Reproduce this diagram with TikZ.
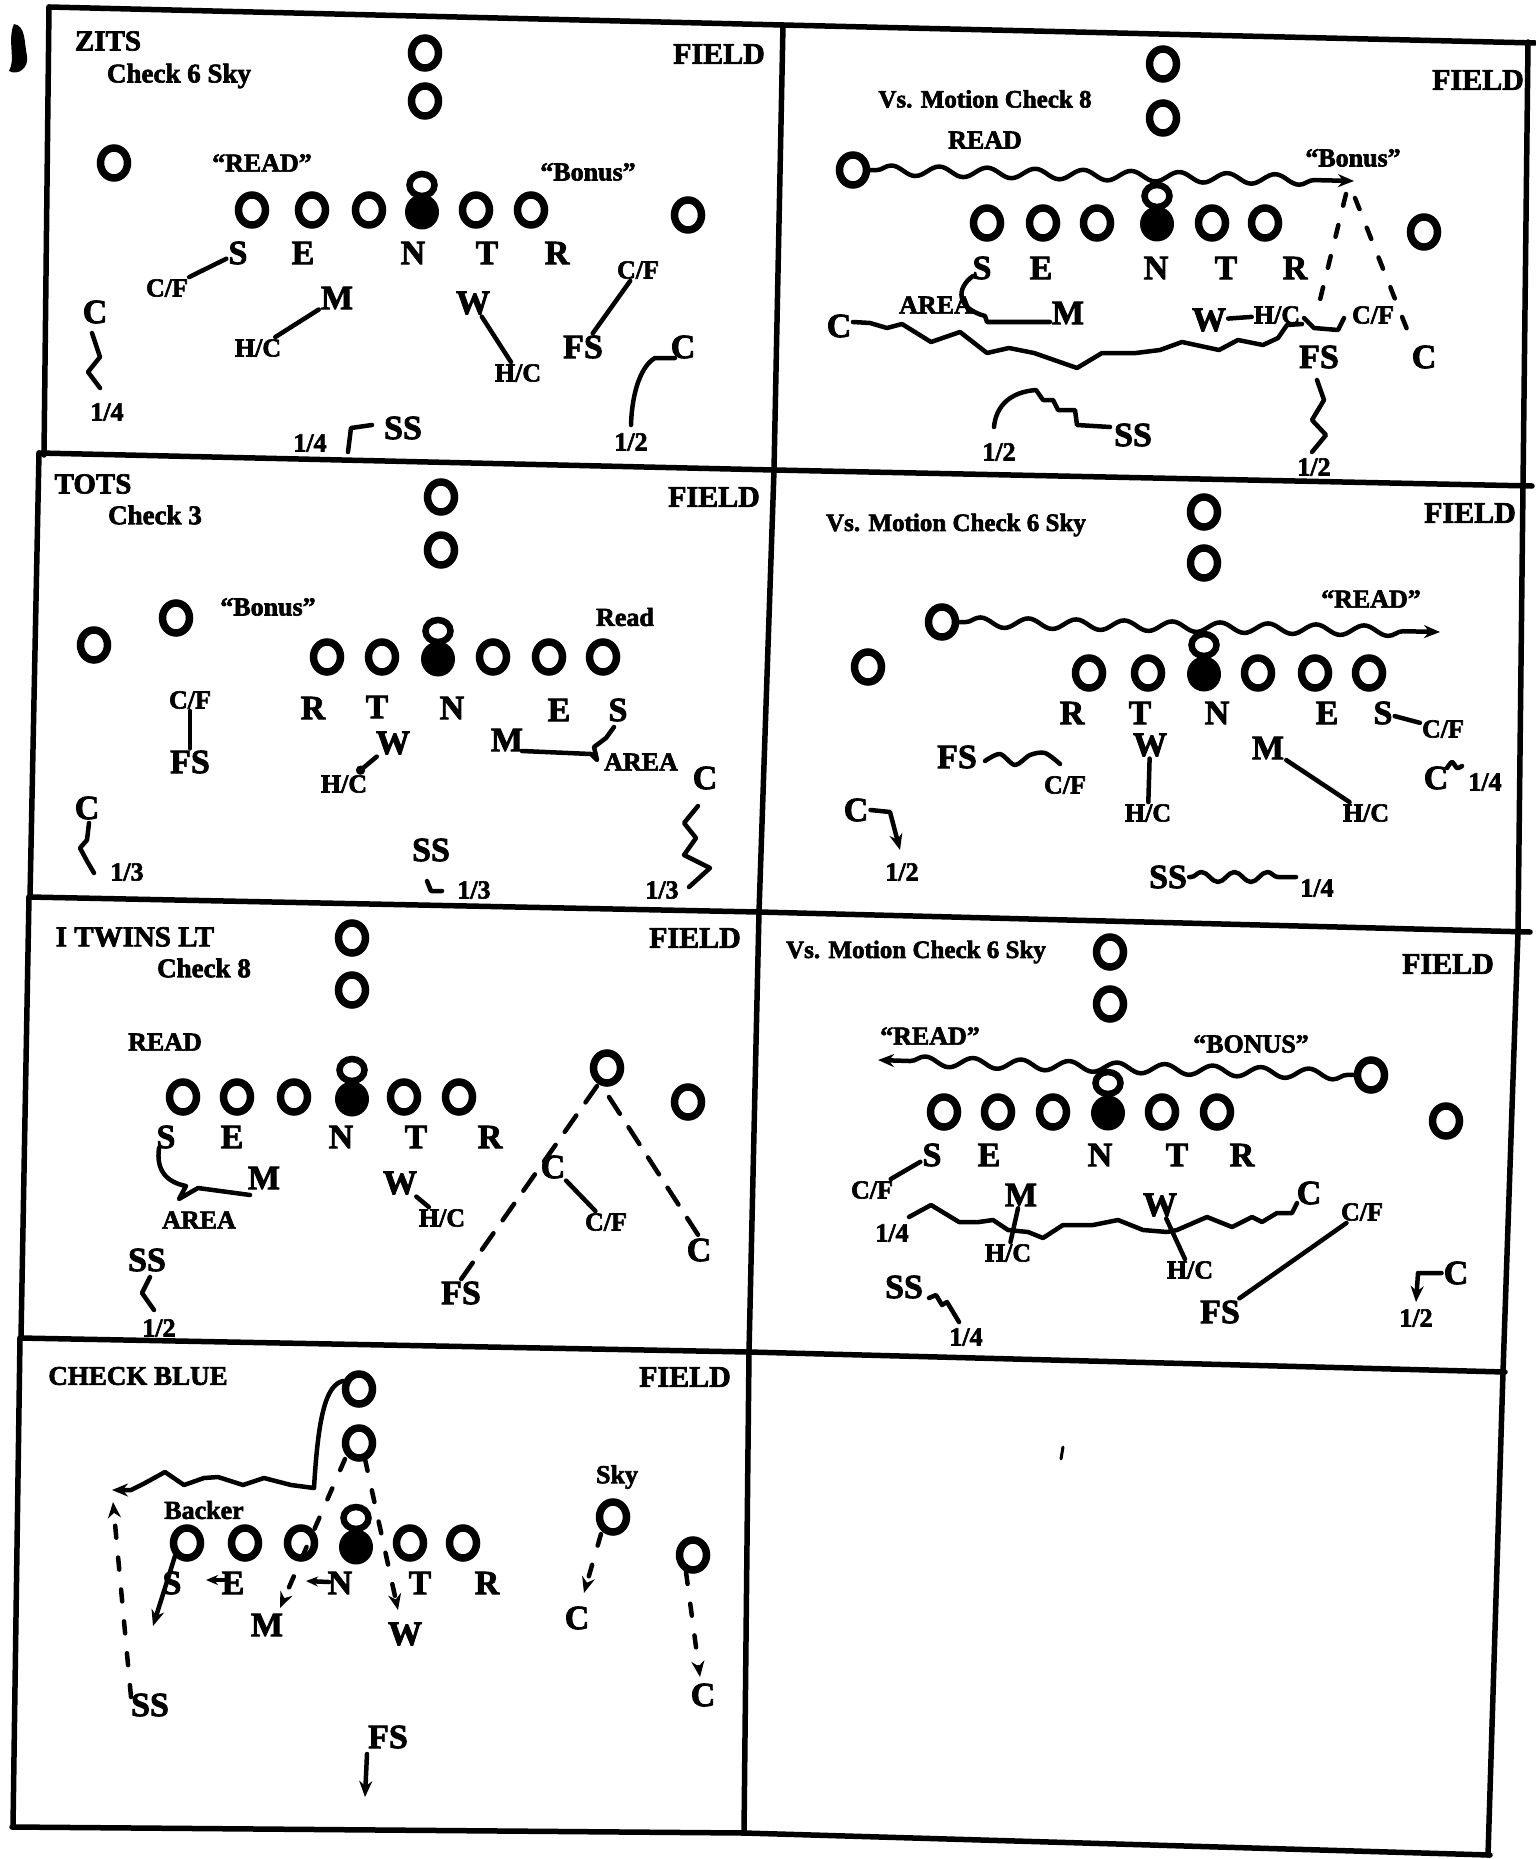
\documentclass[tikz,border=0pt]{standalone}
\usepackage{fontspec}
\setmainfont{Liberation Serif}[BoldFeatures={FakeBold=2.4}]
\usetikzlibrary{shapes.geometric,arrows.meta,decorations.pathmorphing}
\begin{document}
\begin{tikzpicture}[x=1pt,y=-1pt,
 ring/.style={draw, ellipse, line width=7.5pt, minimum width=27pt, minimum height=30pt, inner sep=0pt},
 capring/.style={draw, ellipse, line width=6.5pt, minimum width=25pt, minimum height=22pt, inner sep=0pt},
 ball/.style={fill, ellipse, minimum width=34pt, minimum height=35pt, inner sep=0pt},
 letter/.style={font=\fontsize{34}{34}\selectfont\bfseries, inner sep=2pt},
 lab/.style={font=\fontsize{26}{26}\selectfont\bfseries, inner sep=2pt},
 ttl/.style={font=\fontsize{29}{29}\selectfont\bfseries, inner sep=0pt},
 ttlb/.style={font=\fontsize{27}{27}\selectfont\bfseries, inner sep=0pt},
 subttl/.style={font=\fontsize{27}{27}\selectfont\bfseries, inner sep=0pt},
 vsttl/.style={font=\fontsize{25}{25}\selectfont\bfseries, inner sep=0pt},
 fieldlbl/.style={font=\fontsize{30}{30}\selectfont\bfseries, inner sep=0pt},
 route/.style={line width=4.5pt, line cap=round, line join=round},
 dashA/.style={route, dash pattern=on 12pt off 20pt},
 dashB/.style={route, dash pattern=on 20pt off 16pt},
 wavy/.style={route, decorate, decoration={snake, amplitude=5pt, segment length=48pt, pre length=6pt, post length=16pt}},
 arrowend/.style={-{Stealth[length=16pt,width=13pt]}},
 smallend/.style={-{Stealth[length=12pt,width=10pt]}},
 frameline/.style={line width=5.5pt, line cap=round, line join=round},
]
\fill[white] (0,0) rectangle (1535,1859);
\useasboundingbox (0,0) rectangle (1535,1859);

% ---------------- frame
\draw[frameline] (49,7) -- (783,25) -- (1535,43);
\draw[frameline] (39,453) -- (774,470) -- (1532,486);
\draw[frameline] (29,897) -- (759,912) -- (1530,932);
\draw[frameline] (20,1338) -- (749,1352) -- (1505,1372);
\draw[frameline] (12,1827) -- (744,1833) -- (1490,1855);
\draw[frameline] (49,7) -- (44,455);
\draw[frameline] (39,453) -- (30,897);
\draw[frameline] (29,897) -- (21,1338);
\draw[frameline] (20,1338) -- (13,1827);
\draw[frameline] (783,25) -- (774,470) -- (759,912) -- (749,1352) -- (744,1833);
\draw[frameline] (1528,42) -- (1523,485) -- (1518,932) -- (1503,1372) -- (1488,1855);
\fill (14,24) .. controls (26,26) and (24,42) .. (27,56) .. controls (29,68) and (18,76) .. (9,71) .. controls (16,60) and (7,40) .. (14,24) -- cycle;

% ---------------- Panel 1 : ZITS
\node[ttl] (zTitle) at (108,41) {ZITS};
\node[subttl] (zSub) at (179,76) {Check 6 Sky};
\node[fieldlbl] (zField) at (719,54) {FIELD};
\node[ring] (zQ1) at (425,53) {};
\node[ring] (zQ2) at (425,101) {};
\node[ring] (zWL) at (114,163) {};
\node[lab] (zRead) at (262,163) {``READ''};
\node[lab] (zBonus) at (588,172) {``Bonus''};
\node[ring] (zO1) at (252,210) {};
\node[ring] (zO2) at (312,210) {};
\node[ring] (zO3) at (369,210) {};
\node[capring] (zCap) at (422,185) {};
\node[ball] (zBall) at (422,212) {};
\node[ring] (zO5) at (476,210) {};
\node[ring] (zO6) at (531,210) {};
\node[ring] (zWR) at (688,215) {};
\node[letter] (zS) at (238,253) {S};
\node[letter] (zE) at (303,253) {E};
\node[letter] (zN) at (413,253) {N};
\node[letter] (zT) at (487,253) {T};
\node[letter] (zR) at (557,253) {R};
\node[lab] (zCF1) at (167,288) {C/F};
\draw[route] (zS) -- (zCF1);
\node[letter] (zM) at (337,298) {M};
\node[lab] (zHC1) at (258,348) {H/C};
\draw[route] (zM) -- (zHC1);
\node[letter] (zW) at (473,303) {W};
\node[lab] (zHC2) at (518,373) {H/C};
\draw[route] (zW) -- (zHC2);
\node[lab] (zCF2) at (638,270) {C/F};
\node[letter] (zFS) at (583,347) {FS};
\draw[route] (zCF2) -- (zFS);
\node[letter] (zC1) at (95,312) {C};
\node[lab] (zQt1) at (107,412) {1/4};
\draw[route] (92,333) -- (100,357) -- (88,372) -- (100,388);
\node[letter] (zSS) at (403,428) {SS};
\node[lab] (zQt2) at (310,443) {1/4};
\draw[route] (348,452) -- (351,428) -- (372,425);
\node[letter] (zC2) at (683,347) {C};
\node[lab] (zHalf) at (631,442) {1/2};
\draw[route] (675,358) -- (655,358) .. controls (641,366) and (632,392) .. (631,425);

% ---------------- Panel 2 : Vs. Motion Check 8
\node[vsttl] (mTitle) at (985,99) {Vs. Motion Check 8};
\node[fieldlbl] (mField) at (1478,80) {FIELD};
\node[ring] (mQ1) at (1163,64) {};
\node[ring] (mQ2) at (1163,118) {};
\node[lab] (mRead) at (985,140) {READ};
\node[lab] (mBonus) at (1353,158) {``Bonus''};
\node[ring] (mMot) at (853,170) {};
\coordinate (mArr) at (1354,181);
\draw[wavy,arrowend] (mMot.east) -- (mArr);
\node[ring] (mO1) at (987,223) {};
\node[ring] (mO2) at (1043,223) {};
\node[ring] (mO3) at (1097,223) {};
\node[capring] (mCap) at (1157,196) {};
\node[ball] (mBall) at (1157,224) {};
\node[ring] (mO5) at (1212,223) {};
\node[ring] (mO6) at (1265,223) {};
\node[ring] (mWR) at (1424,232) {};
\node[letter] (mS) at (982,268) {S};
\node[letter] (mE) at (1041,268) {E};
\node[letter] (mN) at (1156,268) {N};
\node[letter] (mT) at (1226,268) {T};
\node[letter] (mR) at (1295,268) {R};
\draw[dashA] (1346,194) -- (1317,312);
\draw[dashA] (1355,198) -- (1412,342);
\node[lab] (mArea) at (936,305) {AREA};
\node[letter] (mM) at (1068,313) {M};
\draw[route] (973,276) .. controls (956,288) and (956,308) .. (985,316) -- (987,322) -- (1050,322);
\node[letter] (mW) at (1209,320) {W};
\node[lab] (mHC) at (1277,315) {H/C};
\draw[route] (mW) -- (mHC);
\node[lab] (mCF) at (1373,315) {C/F};
\draw[route] (1304,318) -- (1314,328) -- (1338,330) -- (1344,318);
\node[letter] (mC1) at (839,326) {C};
\draw[route] (853,322) -- (870,323) -- (887,328) -- (902,324) -- (931,342) -- (960,332) -- (987,353) -- (1009,348) -- (1034,353) -- (1077,368) -- (1102,353) -- (1136,353) -- (1160,350) -- (1182,342) -- (1219,350) -- (1238,340) -- (1263,345) -- (1278,338) -- (1287,325) -- (1302,324);
\node[letter] (mFS) at (1319,357) {FS};
\node[letter] (mC2) at (1424,357) {C};
\draw[route] (1317,380) -- (1324,400) -- (1312,420) -- (1326,435) -- (1312,452);
\node[lab] (mHalf1) at (1314,467) {1/2};
\node[letter] (mSS) at (1133,435) {SS};
\draw[route] (994,427) .. controls (996,406) and (1010,392) .. (1036,390) -- (1043,400) -- (1053,400) -- (1058,410) -- (1075,410) -- (1077,425) -- (1110,427);
\node[lab] (mHalf2) at (999,452) {1/2};

% ---------------- Panel 3 : TOTS
\node[ttl] (tTitle) at (93,484) {TOTS};
\node[subttl] (tSub) at (155,515) {Check 3};
\node[fieldlbl] (tField) at (714,497) {FIELD};
\node[ring] (tQ1) at (441,497) {};
\node[ring] (tQ2) at (441,550) {};
\node[ring] (tWL) at (94,645) {};
\node[ring] (tSlot) at (176,618) {};
\node[lab] (tBonus) at (268,607) {``Bonus''};
\node[lab] (tRead) at (625,617) {Read};
\node[ring] (tO1) at (327,657) {};
\node[ring] (tO2) at (382,657) {};
\node[capring] (tCap) at (438,631) {};
\node[ball] (tBall) at (438,659) {};
\node[ring] (tO4) at (493,657) {};
\node[ring] (tO5) at (549,657) {};
\node[ring] (tO6) at (603,657) {};
\node[letter] (tR) at (313,708) {R};
\node[letter] (tT) at (377,707) {T};
\node[letter] (tN) at (452,708) {N};
\node[letter] (tE) at (559,710) {E};
\node[letter] (tS) at (618,710) {S};
\node[lab] (tCF) at (190,700) {C/F};
\node[letter] (tFS) at (190,762) {FS};
\draw[route] (tCF) -- (tFS);
\node[letter] (tW) at (393,743) {W};
\node[lab] (tHC) at (344,784) {H/C};
\draw[route,-{Circle[length=9pt]}] (tW) -- (tHC);
\node[letter] (tM) at (507,740) {M};
\draw[route] (522,751) -- (591,754) -- (597,760) -- (594,747) -- (606,738) -- (614,727);
\node[lab] (tArea) at (641,762) {AREA};
\node[letter] (tC2) at (705,778) {C};
\draw[route] (698,806) -- (684,823) -- (696,838) -- (684,855) -- (710,868) -- (689,887);
\node[lab] (tTh2) at (662,890) {1/3};
\node[letter] (tC1) at (87,808) {C};
\draw[route] (89,823) -- (87,840) -- (80,848) -- (87,861) -- (94,873);
\node[lab] (tTh1) at (127,872) {1/3};
\node[letter] (tSS) at (431,850) {SS};
\draw[route] (427,881) -- (431,891) -- (442,891);
\node[lab] (tTh3) at (474,890) {1/3};

% ---------------- Panel 4 : Vs. Motion Check 6 Sky
\node[vsttl] (vTitle) at (956,525) {Vs. Motion Check 6 Sky};
\node[fieldlbl] (vField) at (1470,513) {FIELD};
\node[ring] (vQ1) at (1204,512) {};
\node[ring] (vQ2) at (1204,563) {};
\node[ring] (vMot) at (942,622) {};
\coordinate (vArr) at (1440,632);
\node[lab] (vRead) at (1371,599) {``READ''};
\node[ring] (vWL) at (868,667) {};
\node[ring] (vO1) at (1089,673) {};
\node[ring] (vO2) at (1148,673) {};
\node[capring] (vCap) at (1204,645) {};
\node[ball] (vBall) at (1204,674) {};
\node[ring] (vO4) at (1258,673) {};
\node[ring] (vO5) at (1315,673) {};
\node[ring] (vO6) at (1369,673) {};
\draw[wavy,arrowend] (vMot.east) -- (vArr);
\node[letter] (vR) at (1072,713) {R};
\node[letter] (vT) at (1140,713) {T};
\node[letter] (vN) at (1217,713) {N};
\node[letter] (vE) at (1327,713) {E};
\node[letter] (vS) at (1383,713) {S};
\node[lab] (vCF1) at (1443,729) {C/F};
\draw[route] (vS) -- (vCF1);
\node[letter] (vW) at (1150,745) {W};
\node[lab] (vHC1) at (1148,813) {H/C};
\draw[route] (vW) -- (vHC1);
\node[letter] (vM) at (1268,748) {M};
\node[lab] (vHC2) at (1366,813) {H/C};
\draw[route] (vM) -- (vHC2);
\node[letter] (vFS) at (957,757) {FS};
\node[lab] (vCF2) at (1065,785) {C/F};
\draw[route] plot[smooth] coordinates {(985,761) (1000,754) (1015,765) (1030,755) (1045,753) (1060,764)};
\node[letter] (vC2) at (1436,778) {C};
\draw[route] plot[smooth] coordinates {(1447,768) (1452,762) (1457,768) (1462,766)};
\node[lab] (vQt1) at (1485,782) {1/4};
\node[letter] (vC1) at (856,810) {C};
\draw[route,arrowend] (vC1.east) -- (890,812) -- (900,850);
\node[lab] (vHalf) at (902,872) {1/2};
\node[letter] (vSS) at (1168,877) {SS};
\draw[route, decorate, decoration={snake, amplitude=5pt, segment length=33pt, pre length=2pt, post length=4pt}] (vSS.east) -- (1296,877);
\node[lab] (vQt2) at (1317,888) {1/4};

% ---------------- Panel 5 : I TWINS LT
\node[ttl] (iTitle) at (135,937) {I TWINS LT};
\node[subttl] (iSub) at (204,968) {Check 8};
\node[fieldlbl] (iField) at (695,938) {FIELD};
\node[ring] (iQ1) at (352,938) {};
\node[ring] (iQ2) at (352,990) {};
\node[lab] (iRead) at (165,1042) {READ};
\node[ring] (iO1) at (183,1097) {};
\node[ring] (iO2) at (237,1097) {};
\node[ring] (iO3) at (294,1097) {};
\node[capring] (iCap) at (352,1070) {};
\node[ball] (iBall) at (352,1099) {};
\node[ring] (iO5) at (404,1097) {};
\node[ring] (iO6) at (459,1097) {};
\node[ring] (iSlot) at (607,1068) {};
\node[ring] (iWR) at (688,1102) {};
\node[letter] (iS) at (166,1137) {S};
\node[letter] (iE) at (232,1137) {E};
\node[letter] (iN) at (341,1137) {N};
\node[letter] (iT) at (416,1137) {T};
\node[letter] (iR) at (490,1137) {R};
\node[letter] (iFS) at (461,1293) {FS};
\node[letter] (iC2) at (699,1250) {C};
\draw[dashB] (597,1086) -- (iFS.north);
\draw[dashB] (609,1097) -- (iC2.north);
\node[letter] (iCin) at (553,1167) {C};
\node[lab] (iCF) at (606,1222) {C/F};
\draw[route] (iCin) -- (iCF);
\node[letter] (iM) at (264,1178) {M};
\node[lab] (iArea) at (199,1220) {AREA};
\draw[route] (159,1148) .. controls (156,1170) and (166,1182) .. (186,1186) -- (179,1199) -- (198,1188) -- (250,1195);
\node[letter] (iW) at (400,1183) {W};
\node[lab] (iHC) at (442,1218) {H/C};
\draw[route] (iW) -- (iHC);
\node[letter] (iSS) at (147,1260) {SS};
\draw[route] (150,1277) -- (142,1293) -- (154,1310);
\node[lab] (iHalf) at (159,1328) {1/2};

% ---------------- Panel 6 : Vs. Motion Check 6 Sky
\node[vsttl] (wTitle) at (916,952) {Vs. Motion Check 6 Sky};
\node[fieldlbl] (wField) at (1448,964) {FIELD};
\node[ring] (wQ1) at (1110,952) {};
\node[ring] (wQ2) at (1110,1004) {};
\node[lab] (wRead) at (930,1036) {``READ''};
\node[lab] (wBonus) at (1251,1044) {``BONUS''};
\node[ring] (wMot) at (1371,1075) {};
\coordinate (wArr) at (878,1060);
\draw[wavy,arrowend] (wMot.west) -- (wArr);
\node[ring] (wO1) at (944,1112) {};
\node[ring] (wO2) at (998,1112) {};
\node[ring] (wO3) at (1053,1112) {};
\node[capring] (wCap) at (1108,1083) {};
\node[ball] (wBall) at (1108,1113) {};
\node[ring] (wO5) at (1162,1112) {};
\node[ring] (wO6) at (1217,1112) {};
\node[ring] (wWR) at (1446,1121) {};
\node[letter] (wS) at (932,1155) {S};
\node[letter] (wE) at (989,1155) {E};
\node[letter] (wN) at (1100,1155) {N};
\node[letter] (wT) at (1177,1155) {T};
\node[letter] (wR) at (1242,1155) {R};
\node[lab] (wCF1) at (872,1190) {C/F};
\draw[route] (wS) -- (wCF1);
\node[letter] (wM) at (1021,1195) {M};
\node[letter] (wW) at (1160,1205) {W};
\node[letter] (wC1) at (1309,1193) {C};
\node[lab] (wCF2) at (1362,1212) {C/F};
\node[lab] (wQt1) at (892,1233) {1/4};
\draw[route] (909,1217) -- (931,1205) -- (959,1222) -- (979,1222) -- (993,1220) -- (1008,1230) -- (1028,1232) -- (1043,1238) -- (1063,1225) -- (1093,1225) -- (1118,1220) -- (1143,1230) -- (1167,1232) -- (1177,1230) -- (1207,1217) -- (1232,1227) -- (1252,1217) -- (1262,1222) -- (1277,1213) -- (1292,1213) -- (1297,1203);
\node[lab] (wHC1) at (1008,1253) {H/C};
\draw[route] (wM) -- (wHC1);
\node[lab] (wHC2) at (1190,1270) {H/C};
\draw[route] (wW) -- (wHC2);
\node[letter] (wFS) at (1220,1312) {FS};
\draw[route] (wCF2) -- (wFS);
\node[letter] (wSS) at (904,1287) {SS};
\draw[route] (929,1298) -- (936,1295) -- (942,1305) -- (947,1302) -- (959,1322);
\node[lab] (wQt2) at (966,1337) {1/4};
\node[letter] (wC2) at (1456,1273) {C};
\draw[route,arrowend] (wC2.west) -- (1418,1273) -- (1416,1302);
\node[lab] (wHalf) at (1416,1318) {1/2};

% ---------------- Panel 7 : CHECK BLUE
\node[ttlb] (bTitle) at (138,1376) {CHECK BLUE};
\node[fieldlbl] (bField) at (685,1377) {FIELD};
\node[ring] (bQ1) at (359,1389) {};
\node[ring] (bQ2) at (359,1443) {};
\draw[route,arrowend] (343,1381) .. controls (325,1385) and (318,1420) .. (314,1488) -- (291,1485) -- (264,1478) -- (243,1485) -- (218,1477) -- (204,1478) -- (184,1485) -- (165,1472) -- (145,1483) -- (131,1490) -- (112,1490);
\node[lab] (bBacker) at (204,1510) {Backer};
\node[ring] (bO1) at (187,1543) {};
\node[ring] (bO2) at (245,1543) {};
\node[ring] (bO3) at (301,1543) {};
\node[capring] (bCap) at (356,1518) {};
\node[ball] (bBall) at (356,1547) {};
\node[ring] (bO5) at (410,1543) {};
\node[ring] (bO6) at (463,1543) {};
\node[letter] (bS) at (172,1583) {S};
\node[letter] (bE) at (233,1583) {E};
\node[letter] (bN) at (340,1583) {N};
\node[letter] (bT) at (420,1583) {T};
\node[letter] (bR) at (487,1583) {R};
\draw[route,arrowend] (175,1556) -- (153,1626);
\draw[route,smallend] (224,1580) -- (206,1580);
\draw[route,smallend] (329,1582) -- (306,1581);
\node[letter] (bM) at (267,1625) {M};
\node[letter] (bW) at (405,1634) {W};
\draw[dashA,arrowend] (345,1459) -- (280,1608);
\draw[dashA,arrowend] (365,1459) -- (398,1610);
\draw[dashA,arrowend] (131,1697) -- (113,1502);
\node[letter] (bSS) at (150,1705) {SS};
\node[letter] (bFS) at (388,1737) {FS};
\draw[route,arrowend] (367,1754) -- (365,1797);
\node[lab] (bSky) at (617,1477) {Sky};
\node[ring] (bSkyO) at (613,1517) {};
\draw[dashA,arrowend] (601,1534) -- (584,1593);
\node[letter] (bC1) at (577,1618) {C};
\node[ring] (bWR) at (693,1555) {};
\draw[dashA,arrowend] (686,1572) -- (700,1677);
\node[letter] (bC2) at (703,1695) {C};

% ---------------- Panel 8 (empty)
\draw[route,line width=3pt] (1063,1447) -- (1061,1459);
\end{tikzpicture}
\end{document}
